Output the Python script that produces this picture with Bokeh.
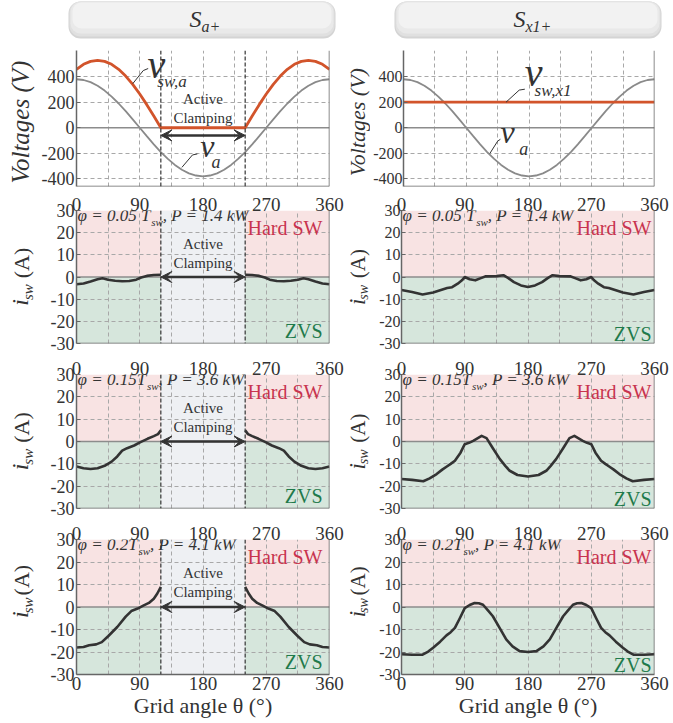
from bokeh.plotting import figure
from bokeh.models import (Range1d, FixedTicker, LinearAxis, Span, Label, Arrow,
                          VeeHead, BoxAnnotation, Grid)
from bokeh.layouts import column, row
from bokeh.embed import file_html
from bokeh.resources import INLINE

nan = float("nan")

# ---------------- data ----------------
theta_v = [0, 10, 20, 30, 40, 50, 60, 70, 80, 90, 100, 110, 120, 130, 140, 150, 160, 170, 180,
           190, 200, 210, 220, 230, 240, 250, 260, 270, 280, 290, 300, 310, 320, 330, 340, 350, 360]
v_a = [380, 374, 357, 329, 291, 244, 190, 130, 66, 0, -66, -130, -190, -244, -291, -329, -357, -374, -380,
       -374, -357, -329, -291, -244, -190, -130, -66, 0, 66, 130, 190, 244, 291, 329, 357, 374, 380]
v_sw_a = [458, 497, 520, 528, 520, 497, 458, 405, 340, 264, 181, 92, 0, 0, 0, 0, 0, 0, 0,
          0, 0, 0, 0, 0, 0, 92, 181, 264, 340, 405, 458, 497, 520, 528, 520, 497, 458]
theta_x1 = [0, 360]
v_sw_x1 = [200, 200]

clamp = [120, 240]
hard_band = [0, 30]
zvs_band = [-30, 0]

# S_a+ column (0.05, 0.15, 0.2 Tsw)
th_l1 = [0, 10, 20, 30, 37, 45, 55, 65, 75, 85, 92, 100, 110, 120, nan,
         240, 250, 260, 268, 275, 285, 295, 305, 315, 323, 330, 340, 350, 360]
i_l1 = [-3.3, -2.9, -2.0, -1.0, -0.6, -1.2, -1.7, -1.9, -1.8, -1.2, -0.2, 0.5, 0.9, 1.0, nan,
        1.0, 0.9, 0.5, -0.2, -1.2, -1.8, -1.9, -1.7, -1.2, -0.6, -1.0, -2.0, -2.9, -3.3]
th_l2 = [0, 10, 20, 30, 40, 50, 58, 65, 72, 82, 91, 101, 110, 116, 120, nan,
         240, 244, 250, 259, 269, 278, 288, 295, 302, 310, 320, 330, 340, 350, 360]
i_l2 = [-11.2, -12.0, -12.3, -12.0, -10.9, -9.0, -6.7, -4.1, -3.0, -1.8, -0.3, 1.2, 2.4, 3.3, 5.0, nan,
        5.0, 3.3, 2.4, 1.2, -0.3, -1.8, -3.0, -4.1, -6.7, -9.0, -10.9, -12.0, -12.3, -12.0, -11.2]
th_l3 = [0, 10, 18, 28, 36, 45, 58, 70, 78, 87, 95, 103, 110, 115, 120, nan,
         240, 245, 250, 257, 265, 273, 282, 290, 302, 315, 324, 332, 342, 350, 360]
i_l3 = [-18.0, -17.8, -17.0, -16.6, -15.6, -13.0, -8.9, -4.3, -1.8, -0.7, 0.6, 1.8, 3.7, 6.0, 8.9, nan,
        8.9, 6.0, 3.7, 1.8, 0.6, -0.7, -1.8, -4.3, -8.9, -13.0, -15.6, -16.6, -17.0, -17.8, -18.0]

# S_x1+ column
th_r1 = [0, 15, 30, 45, 55, 65, 72, 80, 86, 90, 97, 105, 113, 120, 135, 145, 152, 160, 170, 180,
         190, 200, 208, 215, 225, 240, 247, 255, 263, 270, 274, 280, 288, 295, 305, 315, 330, 345, 360]
i_r1 = [-5.9, -6.8, -7.9, -7.0, -6.0, -5.0, -4.6, -3.0, -1.5, 0.0, -1.0, -1.5, -0.5, 0.3, 0.4, 0.8, -0.5, -2.3, -3.8, -4.5,
        -3.8, -2.3, -0.5, 0.8, 0.4, 0.3, -0.5, -1.5, -1.0, 0.0, -1.5, -3.0, -4.6, -5.0, -6.0, -7.0, -7.9, -6.8, -5.9]
th_r2 = [0, 15, 31, 40, 50, 58, 64, 70, 76, 84, 90, 96, 102, 108, 114, 121, 130, 140, 148, 154, 165, 180,
         195, 206, 212, 220, 230, 239, 246, 252, 258, 264, 270, 276, 284, 290, 296, 302, 310, 320, 329, 345, 360]
i_r2 = [-16.8, -17.2, -17.8, -16.5, -14.6, -12.6, -11.3, -10.0, -8.6, -5.0, -1.2, -0.6, 0.3, 1.4, 2.5, 1.5, -3.0, -7.9, -11.0, -13.1, -15.0, -15.7,
        -15.0, -13.1, -11.0, -7.9, -3.0, 1.5, 2.5, 1.4, 0.3, -0.6, -1.2, -5.0, -8.6, -10.0, -11.3, -12.6, -14.6, -16.5, -17.8, -17.2, -16.8]
th_r3 = [0, 15, 30, 38, 45, 55, 64, 70, 76, 83, 90, 97, 104, 110, 116, 123, 130, 140, 149, 158, 168, 180,
         192, 202, 211, 220, 230, 237, 244, 250, 256, 263, 270, 277, 284, 290, 296, 305, 315, 322, 330, 345, 360]
i_r3 = [-21.0, -21.2, -21.2, -19.8, -18.1, -15.4, -12.6, -11.2, -9.3, -5.0, -0.5, 0.9, 1.8, 1.7, 1.0, -1.5, -4.1, -9.5, -14.4, -17.5, -19.6, -20.0,
        -19.6, -17.5, -14.4, -9.5, -4.1, -1.5, 1.0, 1.7, 1.8, 0.9, -0.5, -5.0, -9.3, -11.2, -12.6, -15.4, -18.1, -19.8, -21.2, -21.2, -21.0]

case_phi = ["φ = 0.05 T", "φ = 0.15T", "φ = 0.2T"]
case_power = [", P = 1.4 kW", ", P = 3.6 kW", " , P = 4.1 kW"]

x_ticks = [0, 90, 180, 270, 360]
x_grid = [45, 90, 135, 180, 225, 270, 315]
v_ticks = [-400, -200, 0, 200, 400]
v_grid = [-400, -200, 200, 400]
i_ticks = [-30, -20, -10, 0, 10, 20, 30]
i_grid = [-20, -10, 10, 20]
v_range = (-460, 605)
i_range = (-30, 30)

# ---------------- style ----------------
SERIF = "Liberation Serif"
PINK = "#f8e3e3"
GREEN = "#d6e6dc"
CLAMP_C = "#eef0f3"
ORANGE = "#d2542b"
GRAYV = "#8a8a8a"
CURVE = "#333333"
HARD_C = "#c8344f"
ZVS_C = "#1f7a4b"
TXT = "#333333"
AXIS = "#666666"
GRID_C = "#a8a8a8"
FW = 253
MID = 0.34  # em-box middle above the baseline

W_CH = {' ': 0.25, '=': 0.675, '.': 0.25, ',': 0.25, 'T': 0.556, 'P': 0.611, 'k': 0.444,
        'W': 0.833, 's': 0.389, 'w': 0.667, 'φ': 0.6}

COLS = [dict(w=308, bl=40, br=15, ytick="18px", sw=36),
        dict(w=299, bl=31, br=15, ytick="16px", sw=26)]


def est_w(t, size):
    return sum(W_CH.get(c, 0.5) for c in t) * size


def xd(px):
    return px * 360.0 / FW


def lab(p, x, y, text, size, color=TXT, style="normal", align="left", angle=0):
    p.add_layout(Label(x=x, y=y, text=text, text_font=SERIF, text_font_size=f"{size}px",
                       text_font_style=style, text_color=color, text_align=align,
                       text_baseline="middle", angle=angle, angle_units="deg"))


def labb(p, x, y_base, text, size, px_per_unit, **kw):
    lab(p, x, y_base + MID * size / px_per_unit, text, size, **kw)


def labv(s, x_base, y, text, size, **kw):
    lab(s, x_base - MID * size, y, text, size, angle=90, **kw)


def base_fig(col, height, top, bottom, yr, yticks, ygrid, above=None, last=False):
    c = COLS[col]
    p = figure(width=c["w"], height=height, x_range=Range1d(0, 360), y_range=Range1d(*yr),
               output_backend="svg", toolbar_location=None,
               x_axis_location=None, y_axis_location=None,
               min_border_left=c["bl"], min_border_right=c["br"], min_border_top=top,
               min_border_bottom=bottom,
               background_fill_color="white", border_fill_color="white", outline_line_color=None)
    p.grid.visible = False
    p.add_layout(Grid(dimension=0, ticker=FixedTicker(ticks=x_grid), grid_line_color=GRID_C,
                      grid_line_dash="4 3", grid_line_width=1))
    p.add_layout(Grid(dimension=1, ticker=FixedTicker(ticks=ygrid), grid_line_color=GRID_C,
                      grid_line_dash="4 3", grid_line_width=1))
    ya = LinearAxis(ticker=FixedTicker(ticks=yticks), axis_line_color=AXIS, axis_line_width=1.5,
                    major_tick_in=4, major_tick_out=0, major_tick_line_color=AXIS,
                    minor_tick_line_color=None, major_label_text_font=SERIF,
                    major_label_text_font_size=c["ytick"], major_label_text_color=TXT,
                    major_label_standoff=1 if col else 2,
                    major_label_overrides={t: str(t) for t in yticks if t < 0})
    p.add_layout(ya, "left")
    if last:
        xa = LinearAxis(ticker=FixedTicker(ticks=x_ticks), axis_line_color=AXIS,
                        axis_line_width=1.5, major_tick_in=0, major_tick_out=0,
                        minor_tick_line_color=None, major_tick_line_color=None,
                        major_label_text_font=SERIF, major_label_text_font_size="19px",
                        major_label_text_color=TXT, major_label_standoff=2,
                        axis_label="Grid angle θ (°)", axis_label_text_font=SERIF,
                        axis_label_text_font_style="normal", axis_label_text_font_size="22px",
                        axis_label_text_color=TXT, axis_label_standoff=0)
        p.add_layout(xa, "below")
    else:
        p.add_layout(Span(location=yr[0], dimension="width", line_color=AXIS, line_width=1.5))
    if above is not None:
        ta = LinearAxis(ticker=FixedTicker(ticks=x_ticks), axis_line_color=None,
                        major_tick_line_color=None, major_tick_in=0, major_tick_out=0,
                        minor_tick_line_color=None, major_label_text_font=SERIF,
                        major_label_text_font_size="19px", major_label_text_color=TXT,
                        major_label_standoff=above)
        p.add_layout(ta, "above")
    p.add_layout(Span(location=0, dimension="width", line_color="#8c8c8c", line_width=1.5,
                      level="underlay"))
    p.add_layout(Span(location=360, dimension="height", line_color=AXIS, line_width=1.5))
    return p


def strip_fig(col, height):
    w = COLS[col]["sw"]
    p = figure(width=w, height=height, x_range=Range1d(0, w), y_range=Range1d(0, height),
               output_backend="svg", toolbar_location=None, x_axis_type=None, y_axis_type=None,
               min_border=0, outline_line_color=None, background_fill_color="white",
               border_fill_color="white")
    p.grid.visible = False
    return p


def clamp_marks(p, yv, y_act, y_clp):
    for c in clamp:
        p.add_layout(Span(location=c, dimension="height", line_color="#333333",
                          line_dash="4 2", line_width=1.2))
    p.add_layout(Arrow(x_start=clamp[0], y_start=yv, x_end=clamp[1], y_end=yv,
                       start=VeeHead(size=11, fill_color=CURVE, line_color=CURVE),
                       end=VeeHead(size=11, fill_color=CURVE, line_color=CURVE),
                       line_color=CURVE, line_width=2.5))
    lab(p, 180, y_act, "Active", 15, align="center")
    lab(p, 180, y_clp, "Clamping", 15, align="center")


# ---------------- header ----------------
HDR_H = 39
hdr = figure(width=669, height=HDR_H, x_range=Range1d(0, 669), y_range=Range1d(0, HDR_H),
             output_backend="svg", toolbar_location=None, x_axis_type=None, y_axis_type=None,
             min_border=0, outline_line_color=None, background_fill_color="white",
             border_fill_color="white")
hdr.grid.visible = False
for (bx0, bx1) in [(68, 335), (394, 661)]:
    layers = [(0, 1, 38, "#d4d4d4", 12), (1, 3, 38, "#e0e0e0", 11),
              (2, 6, 37.5, "#e9e9e9", 10), (4, 11, 37, "#f2f2f2", 9)]
    for inset, b, t, col_, rad in layers:
        hdr.add_layout(BoxAnnotation(left=bx0 + inset, right=bx1 - inset, bottom=b, top=t,
                                     fill_color=col_, fill_alpha=1, line_color=None,
                                     border_radius=rad, level="underlay"))
labb(hdr, 189, 12, "S", 24, 1.0, style="italic")
labb(hdr, 201, 8, "a+", 16, 1.0, style="italic")
labb(hdr, 513, 12, "S", 24, 1.0, style="italic")
labb(hdr, 525, 8, "x1+", 16, 1.0, style="italic")

# ---------------- voltage row ----------------
V_H, V_T, V_B = 150, 11, 3
vL = base_fig(0, V_H, V_T, V_B, v_range, v_ticks, v_grid)
vR = base_fig(1, V_H, V_T, V_B, v_range, v_ticks, v_grid)
v_fh = V_H - V_T - V_B
VS = v_fh / (v_range[1] - v_range[0])  # px per volt
sVL = strip_fig(0, V_H)
sVR = strip_fig(1, V_H)
labv(sVL, 28, V_B + v_fh / 2, "Voltages (V)", 25, style="italic", align="center")
labv(sVR, 20.5, V_B + v_fh / 2, "Voltages (V)", 22, style="italic", align="center")

for p in (vL, vR):
    p.line(theta_v, v_a, line_color=GRAYV, line_width=1.8)
vL.line(theta_v, v_sw_a, line_color=ORANGE, line_width=2.8, line_join="round")
vR.line(theta_x1, v_sw_x1, line_color=ORANGE, line_width=2.8)
clamp_marks(vL, -60, 225, 80)

vL.line([80, 95, 102], [345, 448, 464], line_color=CURVE, line_width=1)
labb(vL, 101, 387, "v", 40, VS, style="italic")
labb(vL, 115, 318, "sw,a", 17, VS, style="italic")
vL.line([150, 165, 172], [-310, -213, -205], line_color=CURVE, line_width=1)
labb(vL, 176, -228, "v", 32, VS, style="italic")
labb(vL, 192, -313, "a", 18, VS, style="italic")

vR.line([147, 166, 174], [200, 295, 302], line_color=CURVE, line_width=1)
labb(vR, 174, 325, "v", 40, VS, style="italic")
labb(vR, 188, 248, "sw,x1", 17, VS, style="italic")
vR.line([124, 135, 139], [-200, -105, -90], line_color=CURVE, line_width=1)
labb(vR, 139, -121, "v", 32, VS, style="italic")
labb(vR, 166, -213, "a", 18, VS, style="italic")

# ---------------- current rows ----------------
rows_spec = [  # height, top, bottom, above standoff, last
    (164, 21, 10, 0, False),
    (165, 21, 10, 0, False),
    (204, 21, 48, 0, True),
]
left_data = [(th_l1, i_l1), (th_l2, i_l2), (th_l3, i_l3)]
right_data = [(th_r1, i_r1), (th_r2, i_r2), (th_r3, i_r3)]


def isw_label(s, xmain, xsub, yc, big):
    if big:
        labv(s, xmain, yc - 30, "i", 24, style="italic")
        labv(s, xsub, yc - 23, "sw", 15, style="italic")
        labv(s, xmain, yc + 4, "(A)", 22)
    else:
        labv(s, xmain, yc - 29, "i", 23, style="italic")
        labv(s, xsub, yc - 22.5, "sw", 14, style="italic")
        labv(s, xmain, yc + 4, "(A)", 21)


rows_out = []
for k, (h, top, bot, st, last) in enumerate(rows_spec):
    fh = h - top - bot
    ps = fh / 60.0  # px per amp
    figs = []
    for col in (0, 1):
        p = base_fig(col, h, top, bot, i_range, i_ticks, i_grid, above=st, last=last)
        p.quad(left=[0], right=[360], bottom=[hard_band[0]], top=[hard_band[1]],
               fill_color=PINK, line_color=None, level="image")
        p.quad(left=[0], right=[360], bottom=[zvs_band[0]], top=[zvs_band[1]],
               fill_color=GREEN, line_color=None, level="image")
        if col == 0:
            p.quad(left=[clamp[0]], right=[clamp[1]], bottom=[i_range[0]], top=[i_range[1]],
                   fill_color=CLAMP_C, line_color=None, level="image")
            th, iv = left_data[k]
        else:
            th, iv = right_data[k]
        p.line(th, iv, line_color=CURVE, line_width=2.6, line_join="round")
        if col == 0:
            clamp_marks(p, 0, 15, 6.5)
        x0 = 1.0
        wa = est_w(case_phi[k], 17)
        labb(p, xd(x0), 30 - 11 / ps, case_phi[k], 17, ps, style="italic")
        labb(p, xd(x0 + wa), 30 - 15 / ps, "sw", 11, ps, style="italic")
        labb(p, xd(x0 + wa + est_w("sw", 11)), 30 - 11 / ps, case_power[k], 17, ps,
             style="italic")
        rpad = 7 if col == 0 else 3
        zb = 13 if col == 0 else 10
        lab(p, 360 - xd(rpad), 30 - 17 / ps, "Hard SW", 20, color=HARD_C, align="right")
        lab(p, 360 - xd(rpad), -30 + zb / ps, "ZVS", 20, color=ZVS_C, align="right")
        figs.append(p)
    sL = strip_fig(0, h)
    sR = strip_fig(1, h)
    yc = bot + fh / 2
    isw_label(sL, 28, 33, yc, True)
    isw_label(sR, 20.5, 23.5, yc, False)
    rows_out.append(row(sL, figs[0], sR, figs[1]))

layout = column(hdr, row(sVL, vL, sVR, vR), *rows_out)
open("out.html", "w").write(file_html(layout, INLINE))
